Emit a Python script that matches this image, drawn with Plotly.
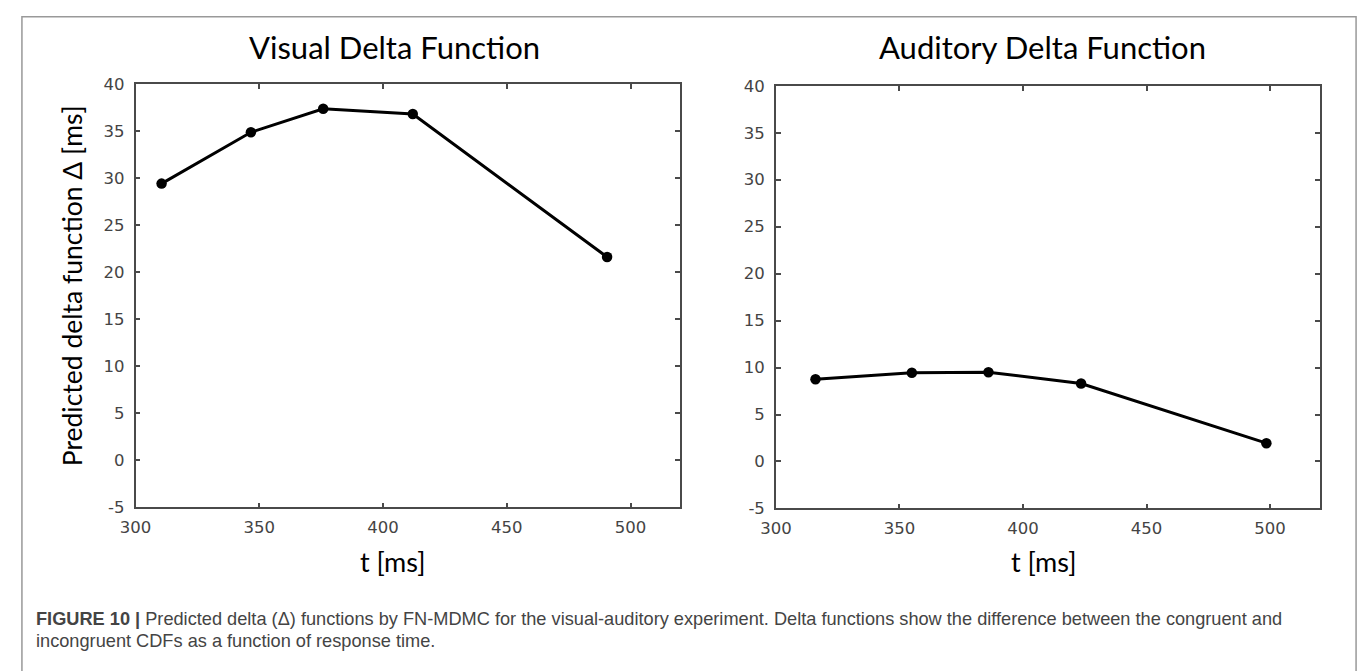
import plotly.graph_objects as go

# Data
visual_t = [310.5, 346.6, 375.8, 412.0, 490.5]
visual_delta = [29.4, 34.85, 37.35, 36.8, 21.6]
auditory_t = [316.0, 355.0, 386.0, 423.5, 498.5]
auditory_delta = [8.75, 9.45, 9.5, 8.3, 1.95]
x_ticks = [300, 350, 400, 450, 500]
x_ticktext = ["300", "350", "400", "450", "500"]
y_ticks = [-5, 0, 5, 10, 15, 20, 25, 30, 35, 40]
y_ticktext = ["-5", "0", "5", "10", "15", "20", "25", "30", "35", "40"]
titles = ["Visual Delta Function", "Auditory Delta Function"]
x_title = "t [ms]"
y_title = "Predicted delta function Δ [ms]"
caption_bold = "FIGURE 10 |"
caption_1 = " Predicted delta (Δ) functions by FN-MDMC for the visual-auditory experiment. Delta functions show the difference between the congruent and"
caption_2 = "incongruent CDFs as a function of response time."

W, H = 1362, 671
fig = go.Figure()

line_style = dict(color="black", width=3)
marker_style = dict(color="black", size=10.5)

fig.add_trace(go.Scatter(x=visual_t, y=visual_delta, mode="lines+markers",
                         line=line_style, marker=marker_style, xaxis="x", yaxis="y",
                         showlegend=False))
fig.add_trace(go.Scatter(x=auditory_t, y=auditory_delta, mode="lines+markers",
                         line=line_style, marker=marker_style, xaxis="x2", yaxis="y2",
                         showlegend=False))

tick_font = dict(family="DejaVu Sans", size=16.5, color="#444")
common_x = dict(range=[300, 520], tickvals=x_ticks, ticktext=x_ticktext, showline=True,
                linecolor="#4a4a4a", linewidth=1.6, mirror="ticks", ticks="inside", ticklen=5,
                tickcolor="#4a4a4a", tickwidth=1.6, showgrid=False, zeroline=False,
                tickfont=tick_font, ticklabelstandoff=4)
common_y = dict(range=[-5, 40], tickvals=y_ticks, ticktext=y_ticktext, showline=True,
                linecolor="#4a4a4a", linewidth=1.6, mirror="ticks", ticks="inside", ticklen=5,
                tickcolor="#4a4a4a", tickwidth=1.6, showgrid=False, zeroline=False,
                tickfont=tick_font, ticklabelstandoff=6)

fig.update_layout(
    width=W, height=H,
    margin=dict(l=0, r=0, t=0, b=0),
    paper_bgcolor="white", plot_bgcolor="white",
    xaxis=dict(domain=[121 / W, 672 / W], anchor="y", **common_x),
    yaxis=dict(domain=[1 - 513 / H, 1 - 77 / H], anchor="x", **common_y),
    xaxis2=dict(domain=[769 / W, 1319 / W], anchor="y2", **common_x),
    yaxis2=dict(domain=[1 - 514 / H, 1 - 79 / H], anchor="x2", **common_y),
)

title_font = dict(family="Lato", size=31, color="black")
label_font = dict(family="Lato", size=27, color="black")
ann = []
ann.append(dict(text=titles[0], x=383 / W, y=1 - 39 / H, xref="paper", yref="paper",
                showarrow=False, font=title_font, xanchor="center", yanchor="middle"))
ann.append(dict(text=titles[1], x=1039 / W, y=1 - 39 / H, xref="paper", yref="paper",
                showarrow=False, font=title_font, xanchor="center", yanchor="middle"))
ann.append(dict(text=x_title, x=381 / W, y=1 - 569 / H, xref="paper", yref="paper",
                showarrow=False, font=label_font, xanchor="center", yanchor="middle"))
ann.append(dict(text=x_title, x=1040 / W, y=1 - 569 / H, xref="paper", yref="paper",
                showarrow=False, font=label_font, xanchor="center", yanchor="middle"))
ann.append(dict(text=y_title, x=57 / W, y=1 - 285 / H, xref="paper", yref="paper",
                showarrow=False, font=dict(family="Lato", size=26.5, color="black"),
                textangle=-90, xanchor="center", yanchor="middle"))
cap_font = dict(family="Liberation Sans", size=18.2, color="#444")
ann.append(dict(text="<b>" + caption_bold + "</b>" + caption_1, x=18 / W, y=1 - 628 / H,
                xref="paper", yref="paper", showarrow=False, font=cap_font,
                xanchor="left", yanchor="middle"))
ann.append(dict(text=caption_2, x=18 / W, y=1 - 650 / H,
                xref="paper", yref="paper", showarrow=False, font=cap_font,
                xanchor="left", yanchor="middle"))
fig.update_layout(annotations=ann)

fig.add_shape(type="rect", xref="paper", yref="paper", x0=6 / W, x1=1356 / W,
              y0=-0.1, y1=1 - 8 / H, line=dict(color="#999", width=1.5), layer="below")

fig.write_html("out.html")
